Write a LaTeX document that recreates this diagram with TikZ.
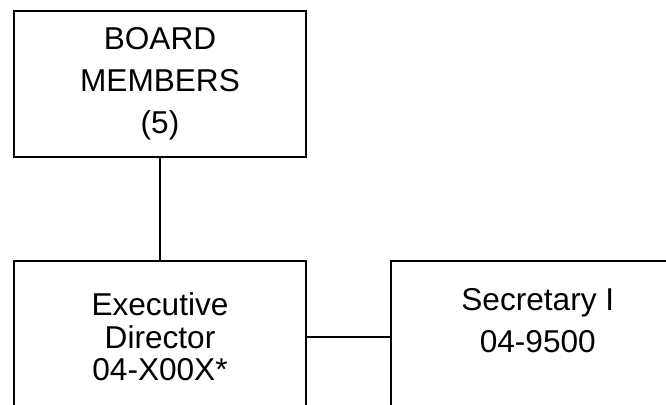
\documentclass[tikz,border=0pt]{standalone}
\usepackage{fontspec}
\setmainfont{Liberation Sans}
\usetikzlibrary{positioning}

\begin{document}
\begin{tikzpicture}[
      font=\fontsize{15.8}{21}\selectfont,
      box/.style={draw, rectangle, line width=0.9pt, minimum width=146pt,
          minimum height=73pt, align=center, inner sep=0pt},
      tallbox/.style={box, minimum height=76pt},
      lbl/.style={align=center, inner sep=0pt},
      conn/.style={line width=0.8pt},
    ]

    \useasboundingbox (0,0) rectangle (333pt,-202pt);
    \clip (0,0) rectangle (333pt,-202pt);

    \node[box] (board) at (80pt,-42pt) {BOARD\\MEMBERS\\(5)};
    \node[tallbox, below=51pt of board, font=\fontsize{15.8}{16.3}\selectfont] (exec) {Executive\\Director\\04-X00X*};
    \node[tallbox, right=41.5pt of exec, minimum width=147pt] (sec) {};
    \node[lbl, below=14pt of sec.north] (sectxt) {Secretary I\\04-9500};

    \draw[conn] (board) -- (exec);
    \draw[conn] (exec) -- (sec);

\end{tikzpicture}
\end{document}
